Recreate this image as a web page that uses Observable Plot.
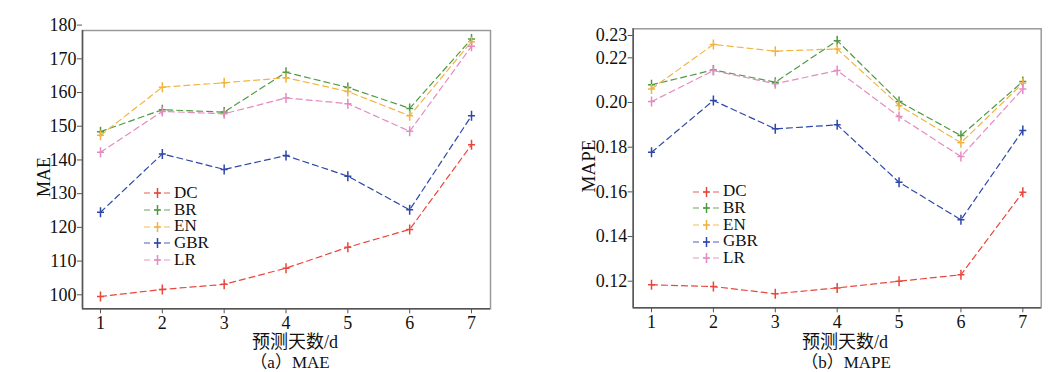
<!DOCTYPE html>
<html><head><meta charset="utf-8">
<script src="https://cdn.jsdelivr.net/npm/d3@7"></script>
<script src="https://cdn.jsdelivr.net/npm/@observablehq/plot@0.6"></script>
<style>
body{margin:0;background:#fff;}
#wrap{position:relative;width:1059px;height:372px;overflow:hidden;font-family:"Liberation Serif","Noto Sans CJK SC",serif;color:#111;}
.panel{position:absolute;top:0;}
.lbl{position:absolute;transform:translate(-50%,-50%);white-space:nowrap;line-height:1;}
.rot{transform:translate(-50%,-50%) rotate(-90deg);}
.legend{position:absolute;font-size:17px;}
.legend .row{height:16.7px;line-height:16.7px;display:flex;align-items:center;}
.legend svg{margin-right:3px;}
</style></head>
<body><div id="wrap"></div>
<script>
// ---- data ----
const days = [1, 2, 3, 4, 5, 6, 7];
const models = ["DC", "BR", "EN", "GBR", "LR"];
const colors = ["#e8473d", "#4f9a45", "#f2b440", "#2c48a8", "#e58ac0"];

const maeDC  = [99.5, 101.6, 103.1, 107.9, 114.1, 119.4, 144.5];
const maeBR  = [148.4, 154.9, 154.2, 166.0, 161.5, 155.3, 175.9];
const maeEN  = [147.3, 161.6, 162.9, 164.4, 160.3, 153.1, 175.1];
const maeGBR = [124.5, 141.8, 137.2, 141.3, 135.2, 125.2, 153.1];
const maeLR  = [142.3, 154.4, 153.7, 158.4, 156.7, 148.5, 173.7];

const mapeDC  = [0.1184, 0.1176, 0.1144, 0.1170, 0.1200, 0.1229, 0.1598];
const mapeBR  = [0.2079, 0.2146, 0.2091, 0.2277, 0.2004, 0.1852, 0.2094];
const mapeEN  = [0.2061, 0.2260, 0.2230, 0.2240, 0.1987, 0.1820, 0.2086];
const mapeGBR = [0.1777, 0.2009, 0.1882, 0.1900, 0.1643, 0.1475, 0.1875];
const mapeLR  = [0.2004, 0.2143, 0.2084, 0.2143, 0.1937, 0.1758, 0.2061];

const maeTicks  = [100, 110, 120, 130, 140, 150, 160, 170, 180];
const mapeTicks = [0.12, 0.14, 0.16, 0.18, 0.20, 0.22, 0.23];

const xLabel = "预测天数/d";
const captions = ["（a）MAE", "（b）MAPE"];
const yLabels = ["MAE", "MAPE"];

// ---- build ----
function longTable(seriesList) {
  const rows = [];
  seriesList.forEach((vals, i) => vals.forEach((v, j) => rows.push({model: models[i], day: days[j], value: v})));
  return rows;
}
const plusSym = {draw(ctx) { ctx.moveTo(0, -5); ctx.lineTo(0, 5); ctx.moveTo(-3.5, 0); ctx.lineTo(3.5, 0); }};

function panel(cfg) {
  const data = longTable(cfg.series);
  return Plot.plot({
    width: 529, height: 332,
    marginLeft: cfg.ml, marginRight: cfg.mr, marginTop: cfg.mt, marginBottom: cfg.mb,
    style: {fontFamily: '"Liberation Serif", serif', fontSize: "18px", color: "#111", background: "#fff", overflow: "visible"},
    x: {domain: cfg.xd, axis: null},
    y: {domain: cfg.yd, axis: null},
    color: {domain: models, range: colors},
    marks: [
      Plot.frame({stroke: "#9a9a9a", strokeWidth: 1.5}),
      Plot.ruleX([cfg.xd[0]], {stroke: "#555", strokeWidth: 1.5}),
      Plot.ruleY([cfg.yd[0]], {stroke: "#555", strokeWidth: 1.5}),
      Plot.axisY(cfg.ticks, {tickSize: 5, tickPadding: 1, tickFormat: cfg.fmt, stroke: "#555", fill: "#111", fontSize: 18, label: null}),
      Plot.axisX(days, {tickSize: 5, tickPadding: 2, tickFormat: d => d, stroke: "#555", fill: "#111", fontSize: 18, label: null}),
      Plot.line(data, {x: "day", y: "value", z: "model", stroke: "model", strokeWidth: 1.2, strokeDasharray: "6,4"}),
      Plot.dot(data, {x: "day", y: "value", stroke: "model", symbol: plusSym, fill: "none", strokeWidth: 1.5})
    ]
  });
}

const wrap = document.getElementById("wrap");
const cfgs = [
  {left: 0, ml: 82, mr: 39, mt: 30, mb: 23.7, xd: [0.709, 7.307], yd: [95.85, 178.4], ticks: maeTicks, fmt: d => d,
   series: [maeDC, maeBR, maeEN, maeGBR, maeLR], xl: [295, 342], cap: [290, 362], yl: [44, 177], ylSize: 18, leg: [144, 185]},
  {left: 530, ml: 102.7, mr: 18.3, mt: 28.3, mb: 24.7, xd: [0.704, 7.297], yd: [0.1081, 0.2330], ticks: mapeTicks, fmt: d3.format(".2f"),
   series: [mapeDC, mapeBR, mapeEN, mapeGBR, mapeLR], xl: [845, 342], cap: [846, 362], yl: [588, 166], ylSize: 19, leg: [693, 183.3]}
];
cfgs.forEach((c, i) => {
  const div = document.createElement("div");
  div.className = "panel"; div.style.left = c.left + "px";
  div.appendChild(panel(c));
  wrap.appendChild(div);

  const xl = document.createElement("div");
  xl.className = "lbl"; xl.textContent = xLabel; xl.style.fontSize = "18px";
  xl.style.left = c.xl[0] + "px"; xl.style.top = c.xl[1] + "px";
  wrap.appendChild(xl);

  const cap = document.createElement("div");
  cap.className = "lbl"; cap.textContent = captions[i]; cap.style.fontSize = "17px";
  cap.style.left = c.cap[0] + "px"; cap.style.top = c.cap[1] + "px";
  wrap.appendChild(cap);

  const yl = document.createElement("div");
  yl.className = "lbl rot"; yl.textContent = yLabels[i]; yl.style.fontSize = c.ylSize + "px";
  yl.style.left = c.yl[0] + "px"; yl.style.top = c.yl[1] + "px";
  wrap.appendChild(yl);

  const leg = document.createElement("div");
  leg.className = "legend"; leg.style.left = c.leg[0] + "px"; leg.style.top = c.leg[1] + "px";
  models.forEach((m, k) => {
    const row = document.createElement("div"); row.className = "row";
    row.innerHTML = `<svg width="27" height="12"><line x1="0" x2="27" y1="6" y2="6" stroke="${colors[k]}" stroke-width="1.2" stroke-dasharray="6,4" opacity="0.85"/>` +
      `<path d="M13.5,1V11M10,6H17" stroke="${colors[k]}" stroke-width="1.5"/></svg><span>${m}</span>`;
    leg.appendChild(row);
  });
  wrap.appendChild(leg);
});
</script></body></html>
